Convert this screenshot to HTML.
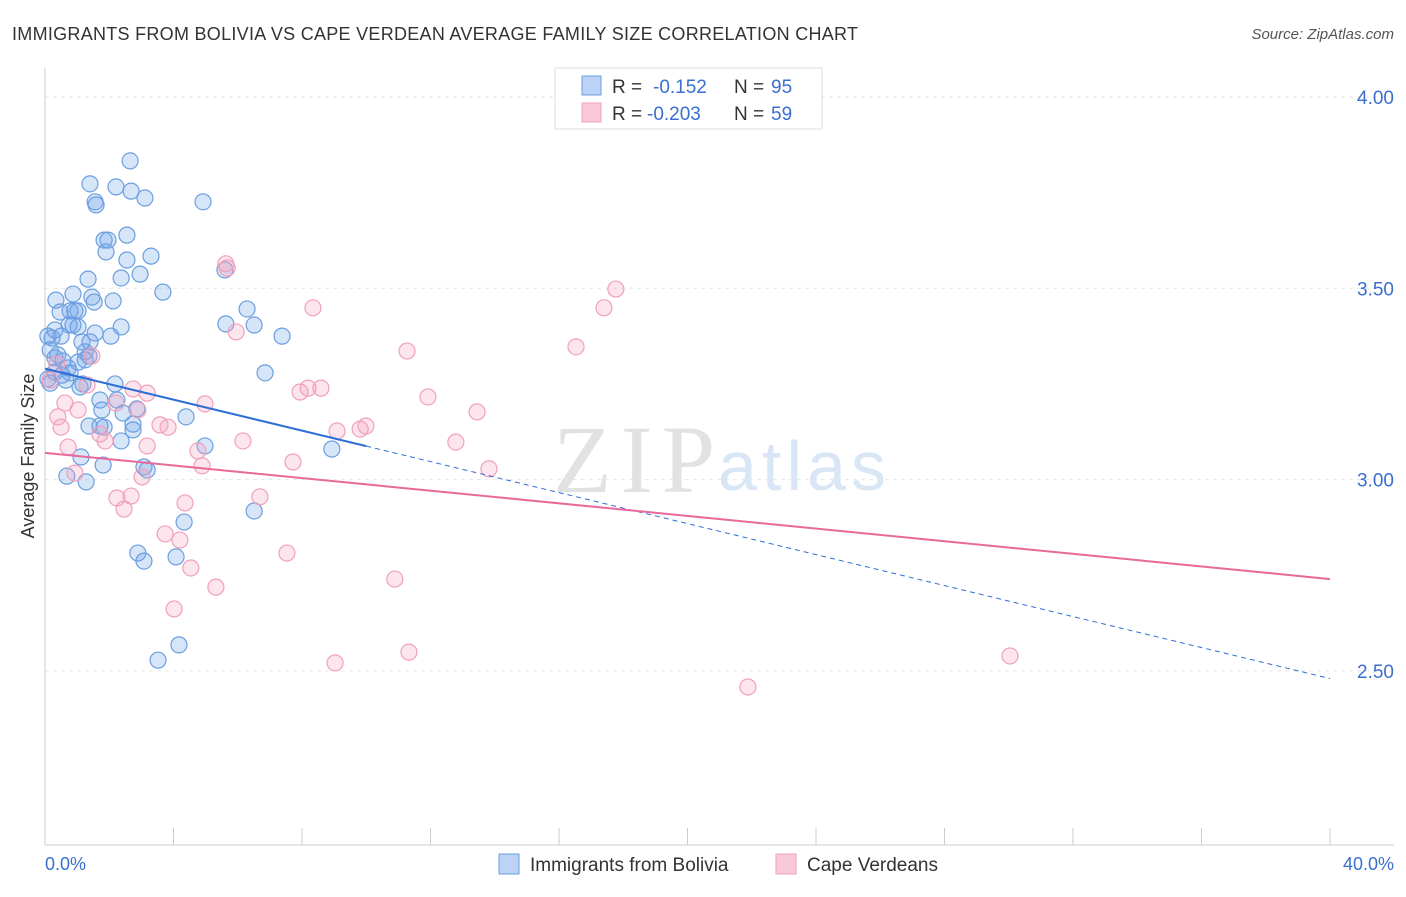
<!DOCTYPE html>
<html><head><meta charset="utf-8"><style>
body{margin:0;background:#fff;font-family:"Liberation Sans",sans-serif;}
</style></head><body>
<svg width="1406" height="892" xmlns="http://www.w3.org/2000/svg" id="c">
<text x="12" y="40" font-size="18" fill="#333" textLength="846">IMMIGRANTS FROM BOLIVIA VS CAPE VERDEAN AVERAGE FAMILY SIZE CORRELATION CHART</text>
<text x="1394" y="39" font-size="15" fill="#555" text-anchor="end" font-style="italic">Source: ZipAtlas.com</text>
<text x="34" y="456" font-size="18" fill="#333" text-anchor="middle" transform="rotate(-90 34 456)">Average Family Size</text>
<text x="553" y="492" font-size="96" fill="#e2e2e2" font-family="Liberation Serif" textLength="162">ZIP</text>
<text x="718" y="490" font-size="70" fill="#d8e6f5" textLength="168">atlas</text>
<g id="grid"></g><g id="pts"></g><g id="lines"></g>
<g>
<rect x="555" y="68" width="267" height="61" fill="#fff" stroke="#ddd"/>
<rect x="582" y="76" width="19" height="19" fill="#bcd3f5" stroke="#6a9fe0"/>
<text x="612" y="93" font-size="19" fill="#333">R =</text>
<text x="653" y="93" font-size="19" fill="#3a6fd0">-0.152</text>
<text x="734" y="93" font-size="19" fill="#333">N =</text>
<text x="771" y="93" font-size="19" fill="#3a6fd0">95</text>
<rect x="582" y="103" width="19" height="19" fill="#f9c9d7" stroke="#f0a0bb"/>
<text x="612" y="120" font-size="19" fill="#333">R =</text>
<text x="647" y="120" font-size="19" fill="#3a6fd0">-0.203</text>
<text x="734" y="120" font-size="19" fill="#333">N =</text>
<text x="771" y="120" font-size="19" fill="#3a6fd0">59</text>
</g>
<g>
<rect x="499" y="854" width="20" height="20" fill="#bcd3f5" stroke="#6a9fe0"/>
<text x="530" y="871" font-size="19" fill="#333">Immigrants from Bolivia</text>
<rect x="776" y="854" width="20" height="20" fill="#f9c9d7" stroke="#f0a0bb"/>
<text x="807" y="871" font-size="19" fill="#333">Cape Verdeans</text>
</g>
<text x="45" y="870" font-size="18" fill="#3a6fd0">0.0%</text>
<text x="1394" y="870" font-size="18" fill="#3a6fd0" text-anchor="end">40.0%</text>
</svg>
<script>
const yTicks=[4.0,3.5,3.0,2.5];
const yTickLabels=["4.00","3.50","3.00","2.50"];
const bluePx=[[130,161],[90,184],[116,187],[131,191],[145,198],[95,202],[96,205],[203,202],[127,235],[104,240],[108,240],[106,252],[151,256],[127,260],[140,274],[88,279],[121,278],[225,270],[163,292],[56,300],[73,294],[92,297],[94,302],[113,301],[60,312],[70,311],[75,311],[78,311],[247,309],[226,324],[254,325],[282,336],[55,330],[69,325],[73,325],[121,327],[95,333],[78,327],[52,338],[48,336],[61,336],[82,342],[90,342],[111,336],[50,350],[58,355],[55,358],[85,352],[89,356],[63,361],[78,362],[68,368],[55,372],[62,375],[70,373],[66,380],[50,383],[48,379],[83,384],[80,387],[115,384],[265,373],[85,360],[117,400],[100,400],[102,410],[123,413],[137,409],[186,417],[100,426],[89,426],[104,427],[133,424],[133,430],[121,441],[205,446],[332,449],[81,457],[67,476],[103,465],[144,467],[147,470],[86,482],[254,511],[184,522],[138,553],[144,561],[176,557],[179,645],[158,660]];
const pinkPx=[[226,264],[227,268],[616,289],[604,308],[313,308],[236,332],[576,347],[407,351],[50,380],[57,364],[92,356],[87,385],[133,389],[147,393],[300,392],[308,388],[321,388],[428,397],[65,403],[78,410],[116,403],[138,410],[205,404],[477,412],[58,417],[61,427],[160,425],[168,427],[366,426],[337,431],[360,429],[456,442],[100,434],[105,441],[243,441],[147,446],[198,451],[202,466],[293,462],[489,469],[68,447],[75,473],[142,477],[117,498],[131,496],[260,497],[124,509],[185,503],[165,534],[180,540],[287,553],[191,568],[216,587],[395,579],[174,609],[335,663],[409,652],[1010,656],[748,687]];
const blueX=bluePx.map(p=>+((p[0]-45)/1285*40).toFixed(2));
const blueY=bluePx.map(p=>+(4-(p[1]-97)/382.6).toFixed(3));
const pinkX=pinkPx.map(p=>+((p[0]-45)/1285*40).toFixed(2));
const pinkY=pinkPx.map(p=>+(4-(p[1]-97)/382.6).toFixed(3));
const blueTrend=[3.29,2.48]; const pinkTrend=[3.07,2.74];
const X=v=>45+v/40*1285, Y=v=>97+(4-v)*382.6;
const NS="http://www.w3.org/2000/svg";
function mk(t,a,p){const e=document.createElementNS(NS,t);for(const k in a)e.setAttribute(k,a[k]);p.appendChild(e);return e;}
const g=document.getElementById('grid');
yTicks.forEach((v,i)=>{
 const l=mk('line',{x1:45,x2:1394,y1:Y(v),y2:Y(v),stroke:'#e5e5e5','stroke-dasharray':'4 4'},g);
 
 
 const t=mk('text',{x:1394,y:Y(v)+7,'font-size':19,fill:'#3a6fd0','text-anchor':'end'},g);
 t.textContent=yTickLabels[i];
 
 
});
mk('line',{x1:45,x2:45,y1:68,y2:845,stroke:'#ccc'},g);
mk('line',{x1:45,x2:1394,y1:845,y2:845,stroke:'#ccc'},g);
for(let i=0;i<=10;i++){const t=mk('line',{x1:X(i*4),x2:X(i*4),y1:828,y2:845,stroke:'#ccc'},g);
 
 }
const pg=document.getElementById('pts');
blueX.forEach((x,i)=>{const c=mk('circle',{cx:X(x),cy:Y(blueY[i]),r:8,fill:'rgba(110,160,235,0.28)',stroke:'#6a9fe0','stroke-width':1.2},pg);
 
 });
pinkX.forEach((x,i)=>{const c=mk('circle',{cx:X(x),cy:Y(pinkY[i]),r:8,fill:'rgba(245,160,190,0.28)',stroke:'#f0a0bb','stroke-width':1.2},pg);
 
 });
const lg=document.getElementById('lines');
const bAt=x=>blueTrend[0]+(blueTrend[1]-blueTrend[0])*x/40;
let l1=mk('line',{x1:X(0),y1:Y(bAt(0)),x2:X(10),y2:Y(bAt(10)),stroke:'#2e6fd6','stroke-width':2},lg);


let l2=mk('line',{x1:X(10),y1:Y(bAt(10)),x2:X(40),y2:Y(bAt(40)),stroke:'#2e6fd6','stroke-width':1,'stroke-dasharray':'5 4'},lg);


let l3=mk('line',{x1:X(0),y1:Y(pinkTrend[0]),x2:X(40),y2:Y(pinkTrend[1]),stroke:'#e8699a','stroke-width':2},lg);


</script>
</body></html>
